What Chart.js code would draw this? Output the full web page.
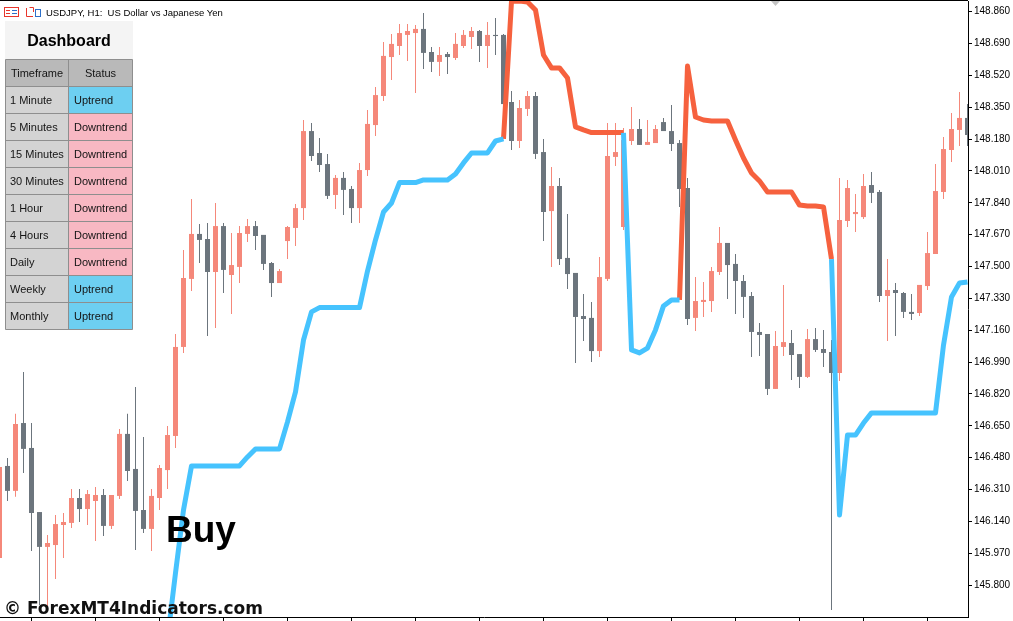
<!DOCTYPE html>
<html>
<head>
<meta charset="utf-8">
<title>USDJPY H1</title>
<script src="https://cdn.jsdelivr.net/npm/chart.js@4.4.0/dist/chart.umd.min.js"></script>
<style>
  html, body { margin: 0; padding: 0; background: #fff; }
  canvas { display: block; }
</style>
</head>
<body>
<canvas id="myChart" width="1013" height="621"></canvas>
<script>
// H1 candles, oldest first (index 0 is the half-hidden one at the left edge)
const opens = [
  145.945, 146.436, 146.303, 146.665, 146.532, 146.190, 146.004, 146.014, 146.121, 146.132,
  146.265, 146.206, 146.249, 146.281, 146.116, 146.276, 146.607, 146.420, 146.201, 146.100,
  146.265, 146.414, 146.596, 147.071, 147.434, 147.674, 147.647, 147.471, 147.716, 147.455,
  147.498, 147.674, 147.716, 147.669, 147.519, 147.412, 147.636, 147.706, 147.812, 148.223,
  148.106, 148.047, 147.882, 147.973, 147.914, 147.812, 148.015, 148.255, 148.410, 148.618,
  148.677, 148.736, 148.746, 148.768, 148.645, 148.592, 148.634, 148.613, 148.677, 148.725,
  148.757, 148.677, 148.736, 148.736, 148.378, 148.170, 148.341, 148.410, 148.111, 147.796,
  147.930, 147.546, 147.466, 147.236, 147.226, 147.049, 147.434, 148.085, 147.711, 148.170,
  148.234, 148.149, 148.159, 148.271, 148.223, 148.159, 147.919, 147.226, 147.311, 147.316,
  147.471, 147.626, 147.514, 147.423, 147.343, 147.151, 147.140, 146.847, 147.071, 147.092,
  147.033, 146.911, 147.113, 147.060, 147.044, 146.932, 147.743, 147.780, 147.764, 147.935,
  147.898, 147.343, 147.375, 147.359, 147.258, 147.252, 147.396, 147.567, 147.898, 148.122,
  148.229, 148.293
];
const highs = [
  146.457, 146.478, 146.714, 146.937, 146.665, 146.190, 146.068, 146.174, 146.185, 146.313,
  146.313, 146.308, 146.324, 146.313, 146.281, 146.633, 146.714, 146.857, 146.591, 146.313,
  146.441, 146.649, 147.140, 147.588, 147.861, 147.727, 147.732, 147.839, 147.732, 147.679,
  147.716, 147.754, 147.743, 147.669, 147.524, 147.487, 147.716, 147.834, 148.282, 148.266,
  148.186, 148.101, 147.989, 148.005, 147.930, 148.053, 148.335, 148.458, 148.698, 148.741,
  148.794, 148.794, 148.789, 148.853, 148.672, 148.672, 148.645, 148.746, 148.762, 148.778,
  148.762, 148.805, 148.826, 148.741, 148.437, 148.389, 148.437, 148.432, 148.181, 148.031,
  147.973, 147.780, 147.466, 147.354, 147.311, 147.551, 148.266, 148.266, 148.239, 148.351,
  148.287, 148.282, 148.255, 148.293, 148.362, 148.175, 147.973, 147.444, 147.418, 147.498,
  147.711, 147.626, 147.567, 147.455, 147.364, 147.199, 147.140, 147.156, 147.402, 147.162,
  147.033, 147.167, 147.172, 147.162, 147.108, 147.973, 147.962, 147.887, 147.994, 148.005,
  147.909, 147.540, 147.412, 147.364, 147.354, 147.402, 147.684, 148.047, 148.191, 148.319,
  148.432, 148.367
];
const lows = [
  145.934, 146.249, 146.271, 146.398, 145.982, 145.694, 145.683, 145.833, 145.945, 146.105,
  146.137, 146.121, 146.036, 146.062, 146.100, 146.260, 146.356, 145.988, 146.078, 145.982,
  146.201, 146.313, 146.532, 147.039, 147.370, 147.519, 147.130, 147.172, 147.359, 147.247,
  147.412, 147.631, 147.588, 147.482, 147.338, 147.412, 147.540, 147.610, 147.748, 148.063,
  148.005, 147.861, 147.807, 147.775, 147.732, 147.732, 147.983, 148.197, 148.383, 148.496,
  148.629, 148.597, 148.426, 148.554, 148.538, 148.517, 148.528, 148.602, 148.666, 148.661,
  148.592, 148.560, 148.629, 148.351, 148.122, 148.133, 148.303, 148.074, 147.636, 147.498,
  147.508, 147.380, 146.985, 147.103, 146.991, 147.017, 147.423, 148.037, 147.695, 148.149,
  148.149, 148.149, 148.159, 148.223, 148.117, 147.818, 147.188, 147.156, 147.231, 147.258,
  147.455, 147.327, 147.247, 147.226, 147.017, 147.023, 146.815, 146.847, 147.023, 146.895,
  146.852, 146.905, 147.044, 146.964, 145.667, 146.889, 147.711, 147.684, 147.754, 147.839,
  147.311, 147.103, 147.130, 147.226, 147.215, 147.236, 147.375, 147.567, 147.861, 148.058,
  148.143, 148.143
];
const closes = [
  146.431, 146.303, 146.660, 146.527, 146.185, 146.004, 146.025, 146.126, 146.137, 146.265,
  146.206, 146.286, 146.281, 146.116, 146.281, 146.607, 146.409, 146.196, 146.100, 146.276,
  146.425, 146.601, 147.071, 147.439, 147.674, 147.642, 147.471, 147.716, 147.482, 147.508,
  147.679, 147.716, 147.663, 147.514, 147.412, 147.476, 147.711, 147.812, 148.223, 148.090,
  148.042, 147.877, 147.973, 147.909, 147.812, 148.015, 148.261, 148.415, 148.624, 148.688,
  148.746, 148.757, 148.768, 148.640, 148.592, 148.629, 148.618, 148.688, 148.736, 148.757,
  148.677, 148.736, 148.730, 148.367, 148.170, 148.346, 148.410, 148.101, 147.791, 147.930,
  147.540, 147.460, 147.231, 147.220, 147.049, 147.444, 148.090, 148.111, 148.175, 148.234,
  148.149, 148.165, 148.234, 148.223, 148.154, 147.914, 147.220, 147.316, 147.322, 147.476,
  147.626, 147.508, 147.423, 147.338, 147.151, 147.135, 146.847, 147.076, 147.097, 147.028,
  146.911, 147.113, 147.055, 147.039, 146.932, 147.748, 147.919, 147.791, 147.930, 147.893,
  147.343, 147.375, 147.359, 147.258, 147.247, 147.402, 147.572, 147.903, 148.127, 148.234,
  148.293, 148.202
];

// supertrend buffers (null = not drawn)
const upLine = [
  null, null, null, null, null, null, null, null, null, null,
  null, null, null, null, null, null, null, null, null, null,
  null, 145.513, 145.865, 146.201, 146.436, 146.436, 146.436, 146.436, 146.436, 146.436,
  146.436, 146.484, 146.527, 146.527, 146.527, 146.527, 146.671, 146.831, 147.108, 147.258,
  147.281, 147.281, 147.281, 147.281, 147.281, 147.281, 147.476, 147.642, 147.791, 147.839,
  147.948, 147.948, 147.948, 147.962, 147.962, 147.962, 147.962, 147.994, 148.053, 148.106,
  148.106, 148.106, 148.170, 148.181, null, null, null, null, null, null,
  null, null, null, null, null, null, null, null, 148.213, 147.055,
  147.039, 147.065, 147.162, 147.290, 147.322, 147.322, null, null, null, null,
  null, null, null, null, null, null, null, null, null, null,
  null, null, null, null, 147.540, 146.174, 146.601, 146.601, 146.665, 146.719,
  146.719, 146.719, 146.719, 146.719, 146.719, 146.719, 146.719, 146.719, 147.081, 147.338,
  147.412, 147.418
];
const downLine = [
  null, null, null, null, null, null, null, null, null, null,
  null, null, null, null, null, null, null, null, null, null,
  null, null, null, null, null, null, null, null, null, null,
  null, null, null, null, null, null, null, null, null, null,
  null, null, null, null, null, null, null, null, null, null,
  null, null, null, null, null, null, null, null, null, null,
  null, null, null, 148.181, 148.915, 148.917, 148.912, 148.869, 148.629, 148.560,
  148.560, 148.506, 148.245, 148.229, 148.215, 148.215, 148.215, 148.215, 148.215, null,
  null, null, null, null, null, 147.322, 148.570, 148.298, 148.282, 148.277,
  148.277, 148.277, 148.175, 148.079, 147.999, 147.957, 147.898, 147.898, 147.898, 147.898,
  147.828, 147.823, 147.823, 147.818, 147.540, null, null, null, null, null,
  null, null, null, null, null, null, null, null, null, null,
  null, null
];

const priceTicks = [145.80, 145.97, 146.14, 146.31, 146.48, 146.65, 146.82, 146.99, 147.16, 147.33,
  147.50, 147.67, 147.84, 148.01, 148.18, 148.35, 148.52, 148.69, 148.86];
const timeTicks = [8, 16, 24, 32, 40, 48, 56, 64, 72, 80, 88, 96, 104, 112, 120];

const timeframes = ['1 Minute', '5 Minutes', '15 Minutes', '30 Minutes', '1 Hour', '4 Hours', 'Daily', 'Weekly', 'Monthly'];
const trendStatus = ['Uptrend', 'Downtrend', 'Downtrend', 'Downtrend', 'Downtrend', 'Downtrend', 'Downtrend', 'Uptrend', 'Uptrend'];

const bullColor = '#F5887A';
const bearColor = '#6C757D';
const candleColors = closes.map((c, i) => c > opens[i] ? bullColor : bearColor);

// title, dashboard, labels and frame drawn on top
const overlay = {
  id: 'overlay',
  afterDraw(chart) {
    const ctx = chart.ctx;
    const area = chart.chartArea;
    ctx.save();

    // top frame line
    ctx.strokeStyle = '#000';
    ctx.lineWidth = 1;
    ctx.beginPath();
    ctx.moveTo(0, 0.5);
    ctx.lineTo(area.right, 0.5);
    ctx.stroke();

    // little shift marker
    ctx.fillStyle = '#c4c4c4';
    ctx.beginPath();
    ctx.moveTo(771, 1);
    ctx.lineTo(780, 1);
    ctx.lineTo(775.5, 6);
    ctx.closePath();
    ctx.fill();

    // icons
    ctx.lineWidth = 1;
    ctx.strokeStyle = '#e8352b';
    ctx.strokeRect(4.5, 7.5, 14, 9);
    ctx.beginPath();
    ctx.moveTo(6, 10.5); ctx.lineTo(10, 10.5);
    ctx.moveTo(6, 13.5); ctx.lineTo(10, 13.5);
    ctx.stroke();
    ctx.strokeStyle = '#2c6fc9';
    ctx.beginPath();
    ctx.moveTo(12, 10.5); ctx.lineTo(17, 10.5);
    ctx.moveTo(12, 13.5); ctx.lineTo(17, 13.5);
    ctx.stroke();
    ctx.strokeStyle = '#e8352b';
    ctx.beginPath();
    ctx.moveTo(26.5, 8); ctx.lineTo(26.5, 16.5); ctx.lineTo(33, 16.5);
    ctx.moveTo(29.5, 7.5); ctx.lineTo(33.5, 7.5); ctx.lineTo(33.5, 12);
    ctx.stroke();
    ctx.strokeStyle = '#2c6fc9';
    ctx.strokeRect(35.5, 9.5, 5, 7);

    ctx.fillStyle = '#000';
    ctx.font = '9.5px "Liberation Sans"';
    ctx.textAlign = 'left';
    ctx.textBaseline = 'alphabetic';
    ctx.fillText('USDJPY, H1:  US Dollar vs Japanese Yen', 46, 15.5);

    // dashboard
    ctx.fillStyle = '#f4f4f4';
    ctx.fillRect(5, 21, 128, 38);
    ctx.fillStyle = '#000';
    ctx.font = 'bold 16px "Liberation Sans"';
    ctx.textAlign = 'center';
    ctx.fillText('Dashboard', 69, 46);

    const left = 5.5, mid = 68.5, right = 132.5, top = 59.5, rowH = 27;
    ctx.fillStyle = '#b9b9b9';
    ctx.fillRect(left, top, right - left, rowH);
    timeframes.forEach((tf, i) => {
      const y = top + rowH * (i + 1);
      ctx.fillStyle = '#d3d3d3';
      ctx.fillRect(left, y, mid - left, rowH);
      ctx.fillStyle = trendStatus[i] === 'Uptrend' ? '#6DCFF1' : '#F8B8C3';
      ctx.fillRect(mid, y, right - mid, rowH);
    });
    ctx.strokeStyle = '#8e8e8e';
    ctx.beginPath();
    for (let r = 0; r <= timeframes.length + 1; r++) {
      const y = top + rowH * r;
      ctx.moveTo(left, y); ctx.lineTo(right, y);
    }
    [left, mid, right].forEach(x => {
      ctx.moveTo(x, top); ctx.lineTo(x, top + rowH * (timeframes.length + 1));
    });
    ctx.stroke();

    ctx.fillStyle = '#141414';
    ctx.font = '11px "Liberation Sans"';
    ctx.textBaseline = 'middle';
    ctx.textAlign = 'center';
    ctx.fillText('Timeframe', (left + mid) / 2, top + 14);
    ctx.fillText('Status', (mid + right) / 2, top + 14);
    ctx.textAlign = 'left';
    timeframes.forEach((tf, i) => {
      const y = top + rowH * (i + 1) + 14;
      ctx.fillText(tf, 10, y);
      ctx.fillText(trendStatus[i], 74, y);
    });

    // signal label + watermark
    ctx.textBaseline = 'alphabetic';
    ctx.fillStyle = '#000';
    ctx.font = 'bold 37px "Liberation Sans"';
    ctx.fillText('Buy', 166, 542);
    ctx.fillStyle = '#111';
    ctx.font = 'bold 17px "DejaVu Sans"';
    ctx.fillText('\u00A9 ForexMT4Indicators.com', 4, 614);

    ctx.restore();
  }
};

const ctx = document.getElementById('myChart').getContext('2d');
const myChart = new Chart(ctx, {
  type: 'bar',
  data: {
    datasets: [
      {
        type: 'line',
        label: 'Up',
        data: upLine.map((v, i) => ({ x: i, y: v })),
        borderColor: '#46C3FE',
        borderWidth: 5,
        pointRadius: 0,
        tension: 0,
        fill: false,
        spanGaps: false,
        borderJoinStyle: 'round',
        clip: 0,
        order: 0
      },
      {
        type: 'line',
        label: 'Down',
        data: downLine.map((v, i) => ({ x: i, y: v })),
        borderColor: '#F6613E',
        borderWidth: 5,
        pointRadius: 0,
        tension: 0,
        fill: false,
        spanGaps: false,
        borderJoinStyle: 'round',
        clip: 0,
        order: 0
      },
      {
        label: 'Body',
        data: opens.map((o, i) => ({ x: i, y: [o, closes[i]] })),
        backgroundColor: candleColors,
        barThickness: 5,
        minBarLength: 1,
        grouped: false,
        inflateAmount: 0,
        borderWidth: 0,
        clip: 0,
        order: 1
      },
      {
        label: 'Wick',
        data: highs.map((h, i) => ({ x: i, y: [lows[i], h] })),
        backgroundColor: candleColors,
        barThickness: 1,
        grouped: false,
        inflateAmount: 0,
        borderWidth: 0,
        clip: 0,
        order: 2
      }
    ]
  },
  options: {
    responsive: false,
    animation: false,
    layout: { padding: { top: 1, left: 0, right: 0, bottom: 0 } },
    plugins: {
      legend: { display: false },
      tooltip: { enabled: false }
    },
    scales: {
      x: {
        type: 'linear',
        min: 0.0625,
        max: 121.0625,
        offset: false,
        afterBuildTicks: s => { s.ticks = timeTicks.map(v => ({ value: v })); },
        afterFit: s => { s.height = 4; s.paddingLeft = 0; s.paddingRight = 0; },
        grid: { drawOnChartArea: false, drawTicks: true, tickLength: 5, color: '#000' },
        border: { display: true, color: '#000' },
        ticks: { display: false }
      },
      y: {
        type: 'linear',
        position: 'right',
        min: 145.630,
        max: 148.917,
        afterBuildTicks: s => { s.ticks = priceTicks.map(v => ({ value: v })); },
        afterFit: s => { s.width = 45; s.paddingTop = 0; s.paddingBottom = 0; },
        grid: { drawOnChartArea: false, tickLength: 4, color: '#000' },
        border: { display: true, color: '#000' },
        ticks: {
          padding: 2,
          color: '#000',
          autoSkip: false,
          font: { family: '"Liberation Sans"', size: 10 },
          callback: v => v.toFixed(3)
        }
      }
    }
  },
  plugins: [overlay]
});
</script>
</body>
</html>
